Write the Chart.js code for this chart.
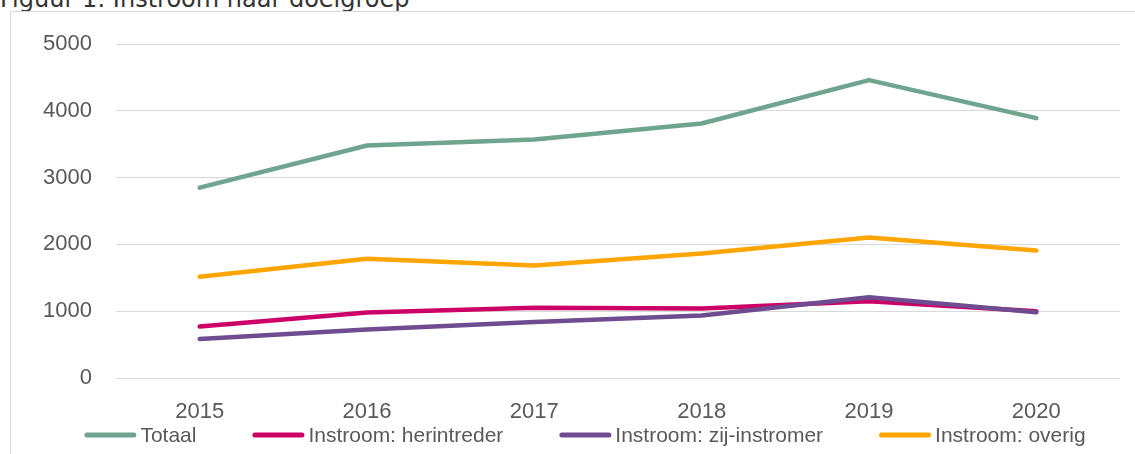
<!DOCTYPE html>
<html>
<head>
<meta charset="utf-8">
<script src="https://cdn.jsdelivr.net/npm/chart.js@4/dist/chart.umd.min.js"></script>
<style>
    html, body {
        margin: 0;
        padding: 0;
        width: 1135px;
        height: 454px;
        overflow: hidden;
        background: #ffffff;
    }
    #title {
        position: absolute;
        left: 0;
        top: -13px;
        font: 24px 'DejaVu Sans', Verdana, sans-serif;
        line-height: 24px;
        color: #333333;
        white-space: nowrap;
    }
    #frame {
        position: absolute;
        left: 10px;
        top: 11px;
        width: 1140px;
        height: 460px;
        border-left: 1px solid #d9d9d9;
        border-top: 1px solid #d9d9d9;
    }
    #chartBox {
        position: absolute;
        left: 11px;
        top: 12px;
        width: 1124px;
        height: 442px;
    }
</style>
</head>
<body>
<div id="title">Figuur 1: Instroom naar doelgroep</div>
<div id="frame"></div>
<div id="chartBox"><canvas id="chart"></canvas></div>

<script>
// Data
const years = ['2015', '2016', '2017', '2018', '2019', '2020'];
const totaal = [2850, 3480, 3570, 3810, 4460, 3890];
const herintreder = [770, 980, 1050, 1040, 1150, 1000];
const zijInstromer = [585, 725, 840, 935, 1210, 985];
const overig = [1515, 1785, 1685, 1865, 2105, 1910];

const FONT = "'Liberation Sans', Arial, sans-serif";
const TEXT_COLOR = '#595959';

function lineSeries(label, data, color, order) {
    return {
        label: label,
        data: data,
        borderColor: color,
        backgroundColor: color,
        borderWidth: 4.5,
        borderCapStyle: 'round',
        borderJoinStyle: 'round',
        pointRadius: 0,
        pointHoverRadius: 0,
        tension: 0,
        fill: false,
        order: order
    };
}

// Excel-style legend: short thick line, text right after it
const lineLegend = {
    id: 'lineLegend',
    afterDraw(chart) {
        const ctx = chart.ctx;
        const lineLen = 52;
        const textGap = 4;
        const itemGap = 56;
        const y = chart.height - 19;

        ctx.save();
        ctx.font = '21px ' + FONT;
        ctx.textBaseline = 'middle';
        ctx.textAlign = 'left';

        const items = chart.data.datasets.map(ds => ({
            label: ds.label,
            color: ds.borderColor,
            width: lineLen + textGap + ctx.measureText(ds.label).width
        }));
        const total = items.reduce((s, it) => s + it.width, 0) + itemGap * (items.length - 1);
        let x = chart.width / 2 + 12 - total / 2;

        items.forEach(it => {
            ctx.strokeStyle = it.color;
            ctx.lineWidth = 5;
            ctx.lineCap = 'round';
            ctx.beginPath();
            ctx.moveTo(x + 2.5, y);
            ctx.lineTo(x + lineLen - 2.5, y);
            ctx.stroke();
            ctx.fillStyle = TEXT_COLOR;
            ctx.fillText(it.label, x + lineLen + textGap, y + 1);
            x += it.width + itemGap;
        });
        ctx.restore();
    }
};

new Chart(document.getElementById('chart').getContext('2d'), {
    type: 'line',
    data: {
        labels: years,
        datasets: [
            lineSeries('Totaal', totaal, '#6FA58E', 4),
            lineSeries('Instroom: herintreder', herintreder, '#CC0066', 3),
            lineSeries('Instroom: zij-instromer', zijInstromer, '#6E4C8F', 2),
            lineSeries('Instroom: overig', overig, '#FFA500', 1)
        ]
    },
    options: {
        animation: false,
        responsive: true,
        maintainAspectRatio: false,
        layout: {
            padding: { left: 0, right: 15, top: 32, bottom: 36 }
        },
        plugins: {
            legend: { display: false },
            tooltip: { enabled: false },
            title: { display: false }
        },
        scales: {
            x: {
                offset: true,
                grid: { display: false, drawTicks: false, tickLength: 0 },
                border: { display: false },
                ticks: {
                    color: TEXT_COLOR,
                    font: { family: FONT, size: 22 },
                    padding: 21,
                    maxRotation: 0
                },
                afterFit(scale) {
                    scale.height = 40;
                }
            },
            y: {
                min: 0,
                max: 5000,
                grid: {
                    color: '#d9d9d9',
                    lineWidth: 1,
                    drawTicks: false
                },
                border: { display: false },
                ticks: {
                    stepSize: 1000,
                    color: TEXT_COLOR,
                    // small lineHeight keeps the top label from pushing the plot down
                    font: { family: FONT, size: 22, lineHeight: 0.7 },
                    padding: 24,
                    callback: value => String(value)
                },
                afterFit(scale) {
                    scale.width = 105;
                }
            }
        }
    },
    plugins: [lineLegend]
});
</script>
</body>
</html>
